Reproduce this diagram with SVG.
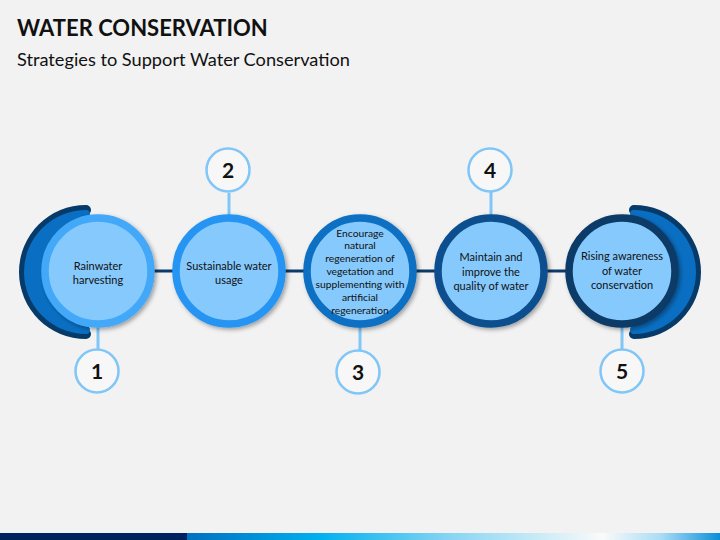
<svg xmlns="http://www.w3.org/2000/svg" width="720" height="540" viewBox="0 0 720 540">
  <style>
    text { font-family: "Lato", "Liberation Sans", sans-serif; fill: #111; }
    .title { font-size: 22px; font-weight: bold; }
    .sub { font-size: 18.2px; }
    .lbl { font-size: 11px; text-anchor: middle; }
    .lbl3 { font-size: 10.3px; text-anchor: middle; }
    .num { font-size: 21px; font-weight: bold; text-anchor: middle; }
    .fill { fill: #86c9fd; }
    .numc { fill: #f7f7f7; stroke: #80c6f8; stroke-width: 2.5; }
    .stem { stroke: #80c6f8; stroke-width: 3; }
    .ring { stroke-width: 7.5; }
    .dark { fill: #063a69; }
    .mid { fill: #0a6fc2; }
  </style>
  <defs>
    <filter id="sh" x="-20%" y="-20%" width="150%" height="150%">
      <feDropShadow dx="2" dy="2" stdDeviation="2" flood-color="#000" flood-opacity="0.35"/>
    </filter>
    <linearGradient id="bar" x1="187" y1="0" x2="720" y2="0" gradientUnits="userSpaceOnUse">
      <stop offset="0" stop-color="#0070c0"/>
      <stop offset="0.25" stop-color="#00b0f0"/>
      <stop offset="0.5" stop-color="#8ad6f3"/>
      <stop offset="0.78" stop-color="#fafafa"/>
      <stop offset="0.89" stop-color="#a8dcf5"/>
      <stop offset="1" stop-color="#0a8fd8"/>
    </linearGradient>
  </defs>

  <rect width="720" height="540" fill="#f2f2f2"/>

  <text class="title" x="17" y="36">WATER CONSERVATION</text>
  <text class="sub" x="17" y="66">Strategies to Support Water Conservation</text>

  <g id="connectors">
    <line x1="98" y1="271" x2="622" y2="271" stroke="#0b3b68" stroke-width="3"/>
    <line class="stem" x1="98" y1="325" x2="98" y2="349"/>
    <line class="stem" x1="229" y1="193" x2="229" y2="217"/>
    <line class="stem" x1="360" y1="325" x2="360" y2="350"/>
    <line class="stem" x1="491" y1="192" x2="491" y2="217"/>
    <line class="stem" x1="622" y1="325" x2="622" y2="349"/>
  </g>

  <g id="node1">
    <path class="dark" d="M86,205 A67,67 0 1 0 86,339 A5,5 0 0 0 86,329 L86,215 A5,5 0 0 0 86,205 Z"/>
    <path class="mid" d="M86,210 A62,62 0 1 0 86,334 A4,4 0 0 0 86,326 L86,218 A4,4 0 0 0 86,210 Z"/>
    <circle class="fill ring" cx="98" cy="271" r="53" stroke="#42a8f7" filter="url(#sh)"/>
    <text class="lbl" x="98" y="270">Rainwater</text>
    <text class="lbl" x="98" y="284">harvesting</text>
    <circle class="numc" cx="97" cy="371" r="21.5"/>
    <text class="num" x="97" y="378.5">1</text>
  </g>

  <g id="node2">
    <circle class="fill ring" cx="229" cy="271" r="53" stroke="#2794f2" filter="url(#sh)"/>
    <text class="lbl" x="229" y="270">Sustainable water</text>
    <text class="lbl" x="229" y="283.5">usage</text>
    <circle class="numc" cx="228" cy="170" r="21.5"/>
    <text class="num" x="228" y="177.5">2</text>
  </g>

  <g id="node3">
    <circle class="fill ring" cx="360" cy="271" r="53" stroke="#0a6fc2" filter="url(#sh)"/>
    <text class="lbl3" x="360" y="236.5">Encourage</text>
    <text class="lbl3" x="360" y="249.4">natural</text>
    <text class="lbl3" x="360" y="262.3">regeneration of</text>
    <text class="lbl3" x="360" y="275.2">vegetation and</text>
    <text class="lbl3" x="360" y="288.1">supplementing with</text>
    <text class="lbl3" x="360" y="301">artificial</text>
    <text class="lbl3" x="360" y="313.9">regeneration</text>
    <circle class="numc" cx="358" cy="372" r="21.5"/>
    <text class="num" x="358" y="379.5">3</text>
  </g>

  <g id="node4">
    <circle class="fill ring" cx="491" cy="271" r="53" stroke="#0b508e" filter="url(#sh)"/>
    <text class="lbl" x="491" y="261">Maintain and</text>
    <text class="lbl" x="491" y="275.5">improve the</text>
    <text class="lbl" x="491" y="290">quality of water</text>
    <circle class="numc" cx="490" cy="170" r="21.5"/>
    <text class="num" x="490" y="177.5">4</text>
  </g>

  <g id="node5">
    <path class="dark" d="M634,205 A67,67 0 1 1 634,339 A5,5 0 0 1 634,329 L634,215 A5,5 0 0 1 634,205 Z"/>
    <path class="mid" d="M634,210 A62,62 0 1 1 634,334 A4,4 0 0 1 634,326 L634,218 A4,4 0 0 1 634,210 Z"/>
    <circle class="fill ring" cx="622" cy="271" r="53" stroke="#0b3b68" filter="url(#sh)"/>
    <text class="lbl" x="622" y="260">Rising awareness</text>
    <text class="lbl" x="622" y="274.5">of water</text>
    <text class="lbl" x="622" y="289">conservation</text>
    <circle class="numc" cx="622" cy="371" r="21.5"/>
    <text class="num" x="622" y="378.5">5</text>
  </g>

  <rect x="0" y="533" width="187" height="7" fill="#002060"/>
  <rect x="187" y="533" width="533" height="7" fill="url(#bar)"/>
</svg>
